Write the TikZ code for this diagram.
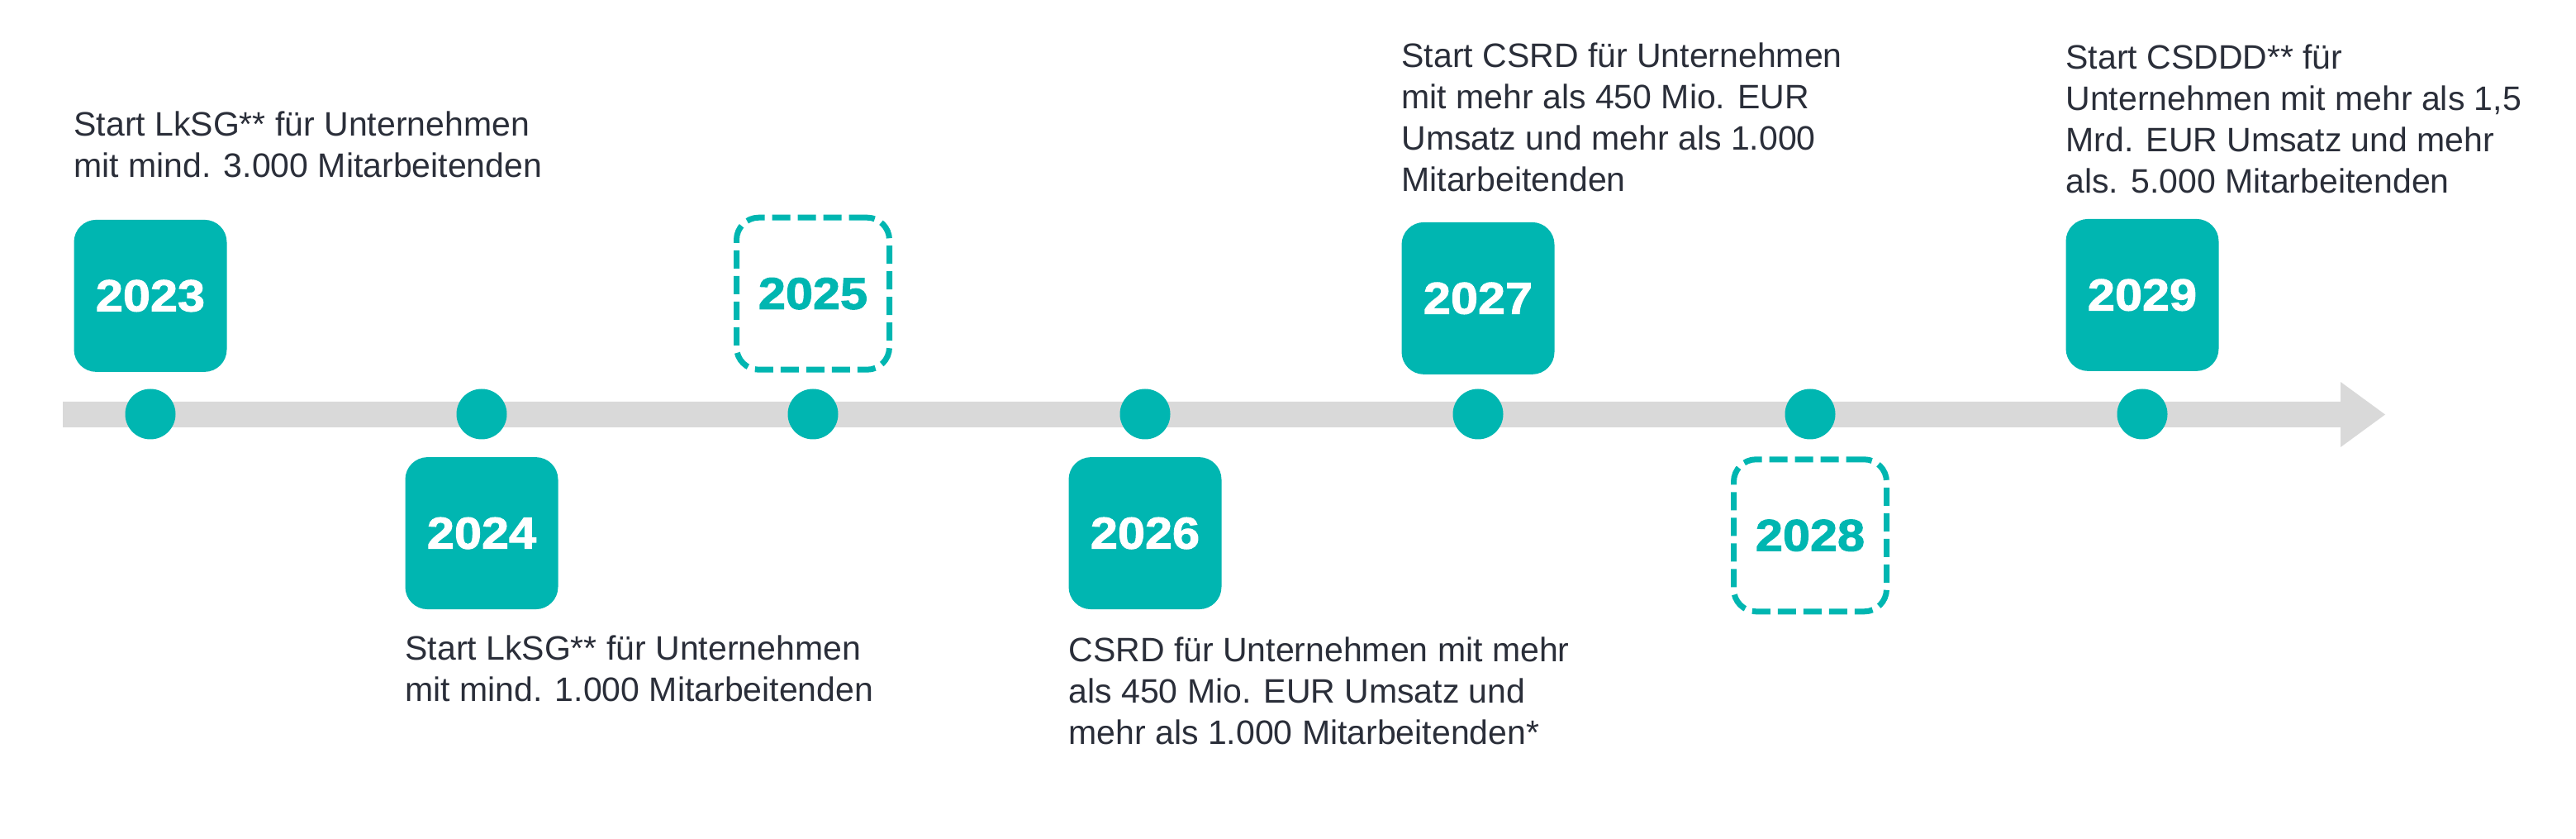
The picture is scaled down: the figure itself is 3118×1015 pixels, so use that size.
\documentclass[tikz,border=0pt]{standalone}
\usepackage{fontspec}
\setmainfont{Liberation Sans}
\newfontfamily\yearfont{Liberation Sans}[FakeStretch=1.1, FakeBold=2]
\usetikzlibrary{positioning}
\definecolor{tealmain}{HTML}{00B6B1}
\definecolor{axisgray}{HTML}{D9D9D9}
\definecolor{ink}{HTML}{2A2E39}
\tikzset{
    yeardot/.style={circle, fill=tealmain, minimum size=15.25pt, inner sep=0pt},
    yearshape/.style={rectangle, rounded corners=6.75pt, minimum width=46.25pt, minimum height=46pt, inner sep=0pt,
        font={\yearfont\bfseries\fontsize{13.5pt}{16pt}\selectfont}},
    yearbox/.style={yearshape, fill=tealmain, text=white},
    yearplan/.style={yearshape, draw=tealmain, line width=1.75pt, dash pattern=on 5.5pt off 2.25pt, text=tealmain},
    desc/.style={align=left, inner sep=0pt, text=ink, text depth=0pt,
        font={\fontsize{10.25pt}{12.5pt}\selectfont}},
}
\begin{document}
\begin{tikzpicture}[x=0.25pt, y=-0.25pt]
            \useasboundingbox (0,0) rectangle (3118,1015);
            \fill[axisgray] (76,486) -- (2833,486) -- (2833,462) -- (2887,501.5) -- (2833,541) -- (2833,517) -- (76,517) -- cycle;
            \node[yeardot] (d23) at (182,501) {};
            \node[yeardot] (d24) at (583,501) {};
            \node[yeardot] (d25) at (984,501) {};
            \node[yeardot] (d26) at (1386,501) {};
            \node[yeardot] (d27) at (1789,501) {};
            \node[yeardot] (d28) at (2191,501) {};
            \node[yeardot] (d29) at (2593,501) {};
            \node[yearbox, above=4.75pt of d23] (y23) {2023};
            \node[yearbox, below=5pt of d24] (y24) {2024};
            \node[yearplan, above=4.75pt of d25] (y25) {2025};
            \node[yearbox, below=5pt of d26] (y26) {2026};
            \node[yearbox, above=4pt of d27] (y27) {2027};
            \node[yearplan, below=5pt of d28] (y28) {2028};
            \node[yearbox, above=5pt of d29] (y29) {2029};
            \node[desc, above=12.5pt of y23.north west, anchor=south west] (t23) {Start LkSG** für Unternehmen\\mit mind. 3.000 Mitarbeitenden};
            \node[desc, below=7.5pt of y24.south west, anchor=north west] (t24) {Start LkSG** für Unternehmen\\mit mind. 1.000 Mitarbeitenden};
            \node[desc, below=8pt of y26.south west, anchor=north west] (t26) {CSRD für Unternehmen mit mehr\\als 450 Mio. EUR Umsatz und\\mehr als 1.000 Mitarbeitenden*};
            \node[desc, above=9pt of y27.north west, anchor=south west] (t27) {Start CSRD für Unternehmen\\mit mehr als 450 Mio. EUR\\Umsatz und mehr als 1.000\\Mitarbeitenden};
            \node[desc, above=7.5pt of y29.north west, anchor=south west] (t29) {Start CSDDD** für\\Unternehmen mit mehr als 1,5\\Mrd. EUR Umsatz und mehr\\als. 5.000 Mitarbeitenden};
\end{tikzpicture}
\end{document}
